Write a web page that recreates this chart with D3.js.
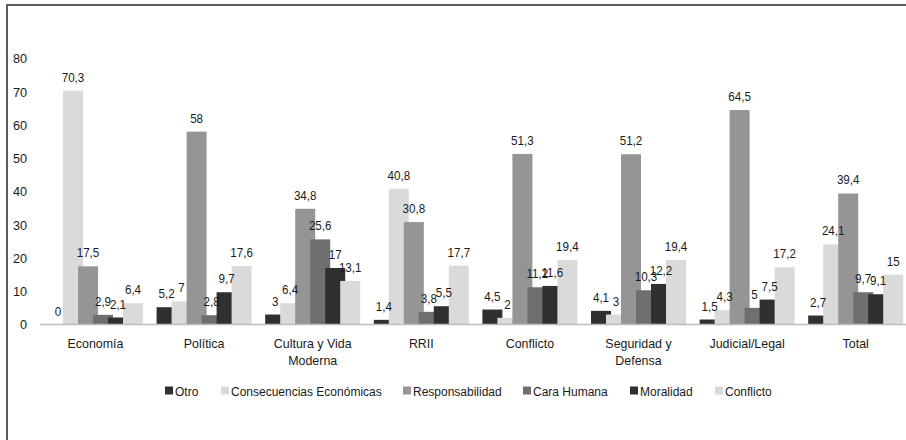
<!DOCTYPE html>
<html>
<head>
<meta charset="utf-8">
<script src="https://cdn.jsdelivr.net/npm/d3@7"></script>
<style>
  html, body { margin: 0; padding: 0; background: #fff; }
  svg { display: block; }
  text { font-family: "Liberation Sans", Arial, sans-serif; fill: #1a1a1a; }
</style>
</head>
<body>
<svg id="chart" width="906" height="440"></svg>
<script>
// Categories (label lines) and the six framing series
const categories = ["Economía", "Política", "Cultura y Vida Moderna", "RRII", "Conflicto", "Seguridad y Defensa", "Judicial/Legal", "Total"];
const categoryLines = [["Economía"], ["Política"], ["Cultura y Vida", "Moderna"], ["RRII"], ["Conflicto"], ["Seguridad y", "Defensa"], ["Judicial/Legal"], ["Total"]];

const seriesNames = ["Otro", "Consecuencias Económicas", "Responsabilidad", "Cara Humana", "Moralidad", "Conflicto"];
const otro            = [0, 5.2, 3, 1.4, 4.5, 4.1, 1.5, 2.7];
const consecuencias   = [70.3, 7, 6.4, 40.8, 2, 3, 4.3, 24.1];
const responsabilidad = [17.5, 58, 34.8, 30.8, 51.3, 51.2, 64.5, 39.4];
const caraHumana      = [2.9, 2.8, 25.6, 3.8, 11.2, 10.3, 5, 9.7];
const moralidad       = [2.1, 9.7, 17, 5.5, 11.6, 12.2, 7.5, 9.1];
const conflicto       = [6.4, 17.6, 13.1, 17.7, 19.4, 19.4, 17.2, 15];
const seriesValues = [otro, consecuencias, responsabilidad, caraHumana, moralidad, conflicto];
const seriesColors = ["#303030", "#dadada", "#959595", "#6f6f6f", "#303030", "#dadada"];

const yTicks = [0, 10, 20, 30, 40, 50, 60, 70, 80];

const svg = d3.select("#chart");

// slightly condensed text: regular sans squeezed horizontally
function label(parent, x, y, str, size, anchor, squeeze, dy) {
  const g = parent.append("g").attr("transform", `translate(${x},${y}) scale(${squeeze},1)`);
  return g.append("text")
    .attr("text-anchor", anchor)
    .attr("dy", dy || 0)
    .style("font-size", size + "px")
    .text(str);
}

// outer frame (runs past the right and bottom edges)
svg.append("rect")
  .attr("x", 7).attr("y", 5)
  .attr("width", 960).attr("height", 480)
  .attr("fill", "none").attr("stroke", "#5e5e5e").attr("stroke-width", 2);

const y = d3.scaleLinear().domain([0, 80]).range([324.5, 58.5]);

// category bands, and the slot of each series inside a band
const x0 = d3.scaleBand().domain(categories).range([41.2, 910]).paddingInner(0).paddingOuter(0);
const barWidth = 20;
const x1 = d3.scalePoint().domain(seriesNames).range([0, 75]);
const groupOffset = (x0.bandwidth() - 95) / 2;

// y axis labels
const yAxisG = svg.append("g");
yTicks.forEach(t => label(yAxisG, 27, y(t), t, 13.5, "end", 0.94, "0.36em"));

// bars, drawn series by series so later ones overlap earlier ones
const fmt = v => String(v).replace(".", ",");
seriesNames.forEach((name, si) => {
  const g = svg.append("g").attr("class", "series");
  g.selectAll("rect")
    .data(categories.map((c, ci) => ({ c, v: seriesValues[si][ci] })))
    .join("rect")
    .attr("x", d => x0(d.c) + groupOffset + x1(name))
    .attr("y", d => y(d.v))
    .attr("width", barWidth)
    .attr("height", d => y(0) - y(d.v))
    .attr("fill", seriesColors[si]);
});

// baseline
svg.append("line")
  .attr("x1", 40).attr("x2", 906)
  .attr("y1", y(0)).attr("y2", y(0))
  .attr("stroke", "#bdbdbd").attr("stroke-width", 1.5);

// value labels
const valueG = svg.append("g");
seriesNames.forEach((name, si) => {
  categories.forEach((c, ci) => {
    const v = seriesValues[si][ci];
    label(valueG, x0(c) + groupOffset + x1(name) + barWidth / 2, y(v) - 9, fmt(v), 12.5, "middle", 0.93);
  });
});

// category labels
const catG = svg.append("g");
categories.forEach((c, ci) => {
  categoryLines[ci].forEach((line, li) => {
    label(catG, x0(c) + x0.bandwidth() / 2, 348 + li * 17, line, 13.5, "middle", 0.92);
  });
});

// legend
const legendX = [165, 221, 403, 523, 630, 715];
const legend = svg.append("g");
seriesNames.forEach((name, si) => {
  legend.append("rect")
    .attr("x", legendX[si]).attr("y", 386.5)
    .attr("width", 8).attr("height", 8)
    .attr("fill", seriesColors[si]);
  label(legend, legendX[si] + 10, 391, name, 12.5, "start", 0.96, "0.36em");
});
</script>
</body>
</html>
